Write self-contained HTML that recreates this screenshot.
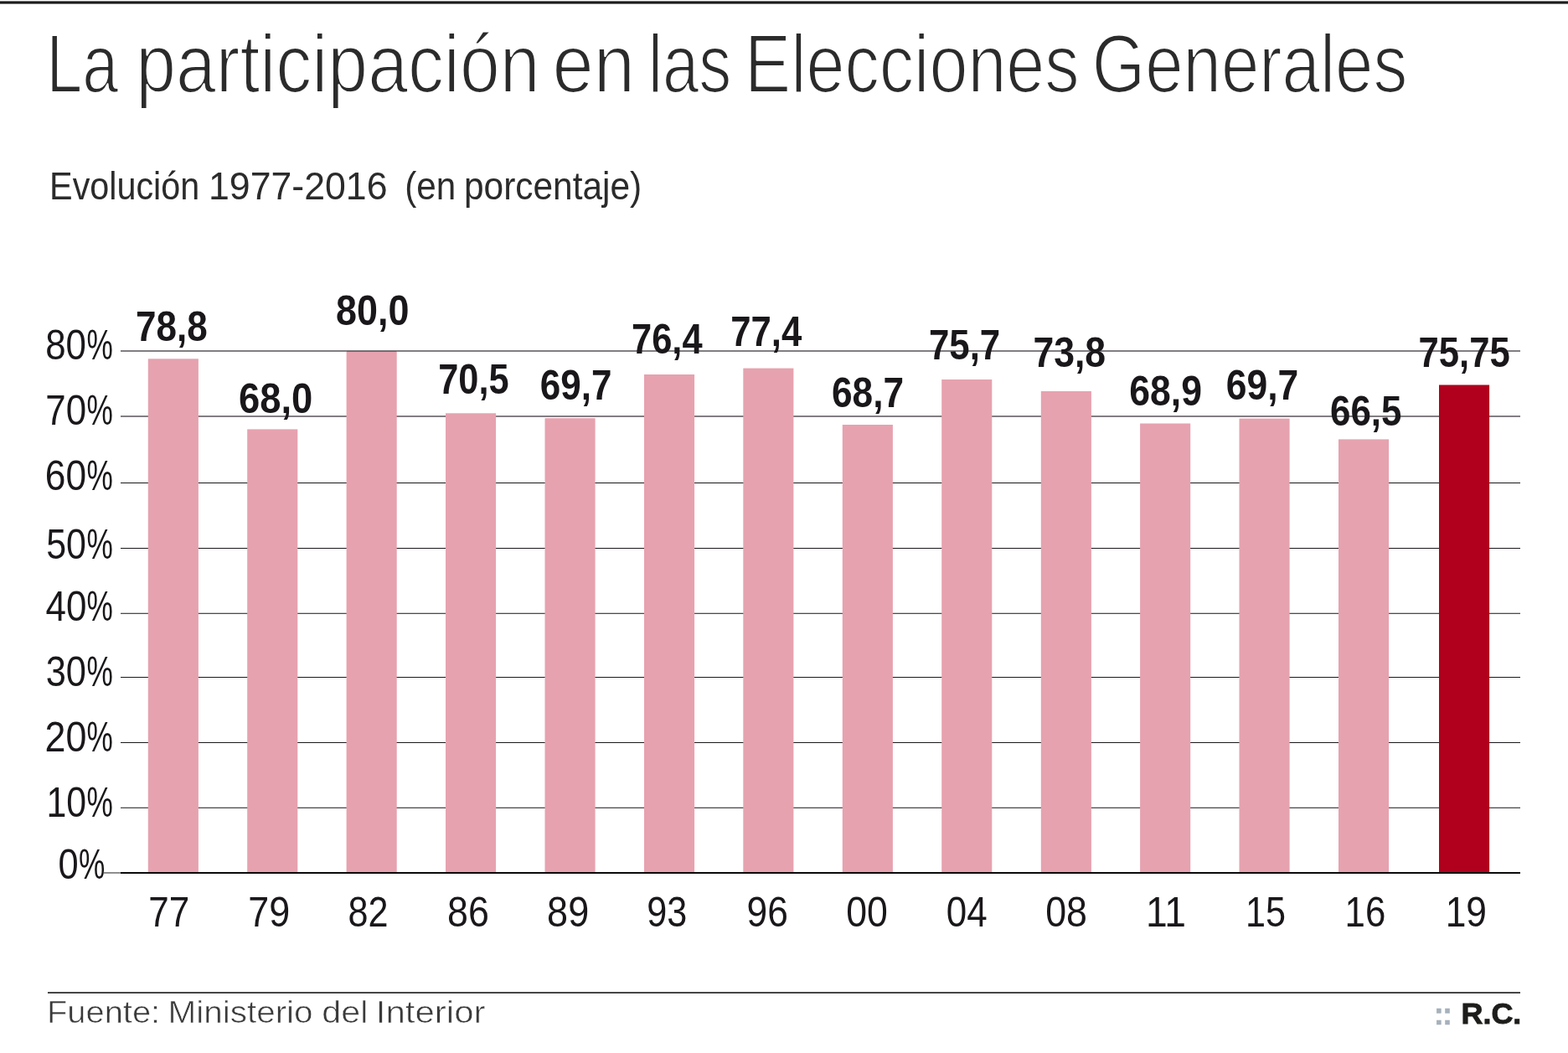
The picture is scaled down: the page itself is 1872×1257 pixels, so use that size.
<!DOCTYPE html>
<html lang="es">
<head>
<meta charset="utf-8">
<title>La participación en las Elecciones Generales</title>
<style>
html,body{margin:0;padding:0;background:#fff;}
body{width:1872px;height:1257px;overflow:hidden;}
svg{display:block;}
text{font-family:"Liberation Sans",sans-serif;white-space:pre;}
</style>
</head>
<body>
<svg width="1872" height="1257" viewBox="0 0 1872 1257">
<rect width="1872" height="1257" fill="#ffffff"/>
<g id="shapes">
<rect x="0" y="1.4" width="1872" height="3.2" fill="#1c1c1c"/>
<rect x="144" y="418" width="1671" height="2" fill="#827e82"/>
<rect x="144" y="496" width="1671" height="2" fill="#827e82"/>
<rect x="144" y="576" width="1671" height="1" fill="#1a171b"/>
<rect x="144" y="654" width="1671" height="1" fill="#1a171b"/>
<rect x="144" y="731.7" width="1671" height="1.3" fill="#4e4a50"/>
<rect x="144" y="808" width="1671" height="1" fill="#1a171b"/>
<rect x="144" y="886" width="1671" height="1" fill="#1a171b"/>
<rect x="144" y="963.7" width="1671" height="1.3" fill="#4e4a50"/>
<rect x="176.8" y="428.3" width="60.1" height="613.7" fill="#e6a2af"/>
<rect x="295.2" y="512.4" width="60.1" height="529.6" fill="#e6a2af"/>
<rect x="413.6" y="419.0" width="60.1" height="623.0" fill="#e6a2af"/>
<rect x="532.0" y="493.3" width="60.1" height="548.7" fill="#e6a2af"/>
<rect x="650.5" y="499.2" width="60.1" height="542.8" fill="#e6a2af"/>
<rect x="769.0" y="447.0" width="60.1" height="595.0" fill="#e6a2af"/>
<rect x="887.3" y="439.6" width="60.1" height="602.4" fill="#e6a2af"/>
<rect x="1005.8" y="507.0" width="60.1" height="535.0" fill="#e6a2af"/>
<rect x="1124.2" y="453.0" width="60.1" height="589.0" fill="#e6a2af"/>
<rect x="1242.8" y="467.0" width="60.1" height="575.0" fill="#e6a2af"/>
<rect x="1361.1" y="505.5" width="60.1" height="536.5" fill="#e6a2af"/>
<rect x="1479.5" y="499.6" width="60.1" height="542.4" fill="#e6a2af"/>
<rect x="1598.0" y="524.4" width="60.1" height="517.6" fill="#e6a2af"/>
<rect x="1718.0" y="459.5" width="60.1" height="582.5" fill="#b0001e"/>
<rect x="413.6" y="419" width="60.1" height="1" fill="#80565f"/>
<rect x="124" y="1041.1" width="21" height="1.7" fill="#7c7c7c"/>
<rect x="144" y="1041" width="1671" height="2" fill="#0a0a0a"/>
<rect x="57" y="1184" width="1758" height="2" fill="#454545"/>
</g>
<g id="labels">
<text id="title" y="110.00" font-size="97.4" font-weight="400" fill="#2b2b2b" stroke="#ffffff" stroke-width="2.2" stroke-linejoin="round"><tspan id="title_0" x="55.16" textLength="86.10" lengthAdjust="spacingAndGlyphs">La</tspan> <tspan id="title_1" x="162.23" textLength="482.28" lengthAdjust="spacingAndGlyphs">participación</tspan> <tspan id="title_2" x="659.60" textLength="98.45" lengthAdjust="spacingAndGlyphs">en</tspan> <tspan id="title_3" x="773.70" textLength="99.53" lengthAdjust="spacingAndGlyphs">las</tspan> <tspan id="title_4" x="889.09" textLength="399.53" lengthAdjust="spacingAndGlyphs">Elecciones</tspan> <tspan id="title_5" x="1303.63" textLength="376.66" lengthAdjust="spacingAndGlyphs">Generales</tspan></text>
<text id="sub" y="237.70" font-size="46.1" font-weight="400" fill="#2b2b2b"><tspan id="sub_0" x="59.08" textLength="179.18" lengthAdjust="spacingAndGlyphs">Evolución</tspan> <tspan id="sub_1" x="249.04" textLength="213.47" lengthAdjust="spacingAndGlyphs">1977-2016</tspan>  <tspan id="sub_2" x="483.15" textLength="60.95" lengthAdjust="spacingAndGlyphs">(en</tspan> <tspan id="sub_3" x="553.99" textLength="212.22" lengthAdjust="spacingAndGlyphs">porcentaje)</tspan></text>
<text id="y0" y="428.80" font-size="49.8" font-weight="400" fill="#1a171b"><tspan id="y0_0" x="54.21" textLength="48.79" lengthAdjust="spacingAndGlyphs">80</tspan><tspan id="y0_1" x="103.59" textLength="31.37" lengthAdjust="spacingAndGlyphs">%</tspan></text>
<text id="y1" y="506.60" font-size="49.8" font-weight="400" fill="#1a171b"><tspan id="y1_0" x="54.25" textLength="48.77" lengthAdjust="spacingAndGlyphs">70</tspan><tspan id="y1_1" x="103.59" textLength="31.37" lengthAdjust="spacingAndGlyphs">%</tspan></text>
<text id="y2" y="584.70" font-size="49.8" font-weight="400" fill="#1a171b"><tspan id="y2_0" x="53.76" textLength="49.27" lengthAdjust="spacingAndGlyphs">60</tspan><tspan id="y2_1" x="103.59" textLength="31.37" lengthAdjust="spacingAndGlyphs">%</tspan></text>
<text id="y3" y="666.80" font-size="49.8" font-weight="400" fill="#1a171b"><tspan id="y3_0" x="55.23" textLength="47.77" lengthAdjust="spacingAndGlyphs">50</tspan><tspan id="y3_1" x="103.59" textLength="31.37" lengthAdjust="spacingAndGlyphs">%</tspan></text>
<text id="y4" y="740.70" font-size="49.8" font-weight="400" fill="#1a171b"><tspan id="y4_0" x="54.44" textLength="48.88" lengthAdjust="spacingAndGlyphs">40</tspan><tspan id="y4_1" x="103.59" textLength="31.37" lengthAdjust="spacingAndGlyphs">%</tspan></text>
<text id="y5" y="818.80" font-size="49.8" font-weight="400" fill="#1a171b"><tspan id="y5_0" x="54.71" textLength="48.29" lengthAdjust="spacingAndGlyphs">30</tspan><tspan id="y5_1" x="103.59" textLength="31.37" lengthAdjust="spacingAndGlyphs">%</tspan></text>
<text id="y6" y="897.20" font-size="49.8" font-weight="400" fill="#1a171b"><tspan id="y6_0" x="53.49" textLength="49.89" lengthAdjust="spacingAndGlyphs">20</tspan><tspan id="y6_1" x="103.59" textLength="31.37" lengthAdjust="spacingAndGlyphs">%</tspan></text>
<text id="y7" y="975.40" font-size="49.8" font-weight="400" fill="#1a171b"><tspan id="y7_0" x="55.42" textLength="47.66" lengthAdjust="spacingAndGlyphs">10</tspan><tspan id="y7_1" x="103.59" textLength="31.37" lengthAdjust="spacingAndGlyphs">%</tspan></text>
<text id="y8" y="1049.30" font-size="49.8" font-weight="400" fill="#1a171b"><tspan id="y8_0" x="69.46" textLength="24.15" lengthAdjust="spacingAndGlyphs">0</tspan><tspan id="y8_1" x="94.07" textLength="31.33" lengthAdjust="spacingAndGlyphs">%</tspan></text>
<text id="x0" y="1106.40" font-size="49.8" font-weight="400" fill="#1a171b"><tspan id="x0_0" x="177.25" textLength="48.96" lengthAdjust="spacingAndGlyphs">77</tspan></text>
<text id="x1" y="1106.40" font-size="49.8" font-weight="400" fill="#1a171b"><tspan id="x1_0" x="296.25" textLength="49.95" lengthAdjust="spacingAndGlyphs">79</tspan></text>
<text id="x2" y="1106.40" font-size="49.8" font-weight="400" fill="#1a171b"><tspan id="x2_0" x="415.41" textLength="48.01" lengthAdjust="spacingAndGlyphs">82</tspan></text>
<text id="x3" y="1106.40" font-size="49.8" font-weight="400" fill="#1a171b"><tspan id="x3_0" x="534.12" textLength="49.78" lengthAdjust="spacingAndGlyphs">86</tspan></text>
<text id="x4" y="1106.40" font-size="49.8" font-weight="400" fill="#1a171b"><tspan id="x4_0" x="653.12" textLength="50.06" lengthAdjust="spacingAndGlyphs">89</tspan></text>
<text id="x5" y="1106.40" font-size="49.8" font-weight="400" fill="#1a171b"><tspan id="x5_0" x="772.34" textLength="48.05" lengthAdjust="spacingAndGlyphs">93</tspan></text>
<text id="x6" y="1106.40" font-size="49.8" font-weight="400" fill="#1a171b"><tspan id="x6_0" x="891.61" textLength="49.29" lengthAdjust="spacingAndGlyphs">96</tspan></text>
<text id="x7" y="1106.40" font-size="49.8" font-weight="400" fill="#1a171b"><tspan id="x7_0" x="1010.16" textLength="49.64" lengthAdjust="spacingAndGlyphs">00</tspan></text>
<text id="x8" y="1106.40" font-size="49.8" font-weight="400" fill="#1a171b"><tspan id="x8_0" x="1129.76" textLength="48.90" lengthAdjust="spacingAndGlyphs">04</tspan></text>
<text id="x9" y="1106.40" font-size="49.8" font-weight="400" fill="#1a171b"><tspan id="x9_0" x="1248.15" textLength="49.75" lengthAdjust="spacingAndGlyphs">08</tspan></text>
<text id="x10" y="1106.40" font-size="49.8" font-weight="400" fill="#1a171b"><tspan id="x10_0" x="1368.00" textLength="48.04" lengthAdjust="spacingAndGlyphs">11</tspan></text>
<text id="x11" y="1106.40" font-size="49.8" font-weight="400" fill="#1a171b"><tspan id="x11_0" x="1486.91" textLength="47.99" lengthAdjust="spacingAndGlyphs">15</tspan></text>
<text id="x12" y="1106.40" font-size="49.8" font-weight="400" fill="#1a171b"><tspan id="x12_0" x="1605.61" textLength="48.76" lengthAdjust="spacingAndGlyphs">16</tspan></text>
<text id="x13" y="1106.40" font-size="49.8" font-weight="400" fill="#1a171b"><tspan id="x13_0" x="1725.65" textLength="49.31" lengthAdjust="spacingAndGlyphs">19</tspan></text>
<text id="v0" y="407.10" font-size="49.8" font-weight="700" fill="#1a171b"><tspan id="v0_0" x="161.99" textLength="85.63" lengthAdjust="spacingAndGlyphs">78,8</tspan></text>
<text id="v1" y="492.60" font-size="49.8" font-weight="700" fill="#1a171b"><tspan id="v1_0" x="285.03" textLength="88.29" lengthAdjust="spacingAndGlyphs">68,0</tspan></text>
<text id="v2" y="388.30" font-size="49.8" font-weight="700" fill="#1a171b"><tspan id="v2_0" x="401.10" textLength="87.40" lengthAdjust="spacingAndGlyphs">80,0</tspan></text>
<text id="v3" y="470.00" font-size="49.8" font-weight="700" fill="#1a171b"><tspan id="v3_0" x="523.27" textLength="84.35" lengthAdjust="spacingAndGlyphs">70,5</tspan></text>
<text id="v4" y="476.90" font-size="49.8" font-weight="700" fill="#1a171b"><tspan id="v4_0" x="644.83" textLength="85.69" lengthAdjust="spacingAndGlyphs">69,7</tspan></text>
<text id="v5" y="422.00" font-size="49.8" font-weight="700" fill="#1a171b"><tspan id="v5_0" x="754.02" textLength="84.56" lengthAdjust="spacingAndGlyphs">76,4</tspan></text>
<text id="v6" y="413.00" font-size="49.8" font-weight="700" fill="#1a171b"><tspan id="v6_0" x="872.21" textLength="85.13" lengthAdjust="spacingAndGlyphs">77,4</tspan></text>
<text id="v7" y="486.30" font-size="49.8" font-weight="700" fill="#1a171b"><tspan id="v7_0" x="993.02" textLength="86.07" lengthAdjust="spacingAndGlyphs">68,7</tspan></text>
<text id="v8" y="429.10" font-size="49.8" font-weight="700" fill="#1a171b"><tspan id="v8_0" x="1108.98" textLength="85.27" lengthAdjust="spacingAndGlyphs">75,7</tspan></text>
<text id="v9" y="437.60" font-size="49.8" font-weight="700" fill="#1a171b"><tspan id="v9_0" x="1233.48" textLength="86.67" lengthAdjust="spacingAndGlyphs">73,8</tspan></text>
<text id="v10" y="484.30" font-size="49.8" font-weight="700" fill="#1a171b"><tspan id="v10_0" x="1348.27" textLength="86.70" lengthAdjust="spacingAndGlyphs">68,9</tspan></text>
<text id="v11" y="477.10" font-size="49.8" font-weight="700" fill="#1a171b"><tspan id="v11_0" x="1463.82" textLength="86.49" lengthAdjust="spacingAndGlyphs">69,7</tspan></text>
<text id="v12" y="507.60" font-size="49.8" font-weight="700" fill="#1a171b"><tspan id="v12_0" x="1588.04" textLength="85.34" lengthAdjust="spacingAndGlyphs">66,5</tspan></text>
<text id="v13" y="437.90" font-size="49.8" font-weight="700" fill="#1a171b"><tspan id="v13_0" x="1693.51" textLength="109.29" lengthAdjust="spacingAndGlyphs">75,75</tspan></text>
<text id="src" y="1221.30" font-size="36.4" font-weight="400" fill="#3a3a3a" stroke="#ffffff" stroke-width="0.6" stroke-linejoin="round"><tspan id="src_0" x="55.98" textLength="135.22" lengthAdjust="spacingAndGlyphs">Fuente:</tspan> <tspan id="src_1" x="200.46" textLength="173.17" lengthAdjust="spacingAndGlyphs">Ministerio</tspan> <tspan id="src_2" x="384.35" textLength="54.97" lengthAdjust="spacingAndGlyphs">del</tspan> <tspan id="src_3" x="448.76" textLength="130.78" lengthAdjust="spacingAndGlyphs">Interior</tspan></text>
<text id="dots" x="0 10.6" y="0" font-size="37.6" font-weight="700" fill="#a6b1bb" stroke="#a6b1bb" stroke-width="0.5" transform="matrix(0.96 0 0 1 1711.85 1223.0)">::</text>
<text id="rc" y="1222.20" font-size="35.2" font-weight="700" fill="#1d1d1b" stroke="#1d1d1b" stroke-width="0.9" stroke-linejoin="miter"><tspan id="rc_0" x="1744.42" textLength="71.96" lengthAdjust="spacingAndGlyphs">R.C.</tspan></text>
</g>
</svg>
</body>
</html>
